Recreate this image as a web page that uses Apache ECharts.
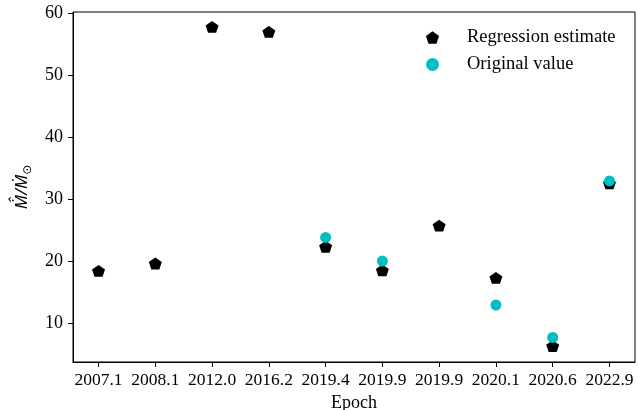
<!DOCTYPE html>
<html>
<head>
<meta charset="utf-8">
<script src="https://cdn.jsdelivr.net/npm/echarts@6/dist/echarts.min.js"></script>
<style>
  html, body { margin: 0; padding: 0; background: #fff; }
  #chart { width: 638px; height: 410px; }
</style>
</head>
<body>
<div id="chart"></div>
<script>
// Observation epochs (category labels on the x axis)
const epochs = ['2007.1', '2008.1', '2012.0', '2016.2', '2019.4', '2019.9', '2019.9', '2020.1', '2020.6', '2022.9'];
// Accretion-rate ratio from the regression model
const regression = [18.5, 19.7, 57.8, 57.0, 22.4, 18.6, 25.8, 17.4, 6.4, 32.6];
// Directly measured values (only where available)
const original = [null, null, null, null, 23.9, 20.1, null, 13.0, 7.8, 33.0];
const yTicks = [10, 20, 30, 40, 50, 60];

const serif = 'Liberation Serif, Times New Roman, serif';
const pentagon = 'path://M0,-1 L0.951,-0.309 L0.588,0.809 L-0.588,0.809 L-0.951,-0.309 Z';

const toPairs = arr => arr.map((v, i) => (v == null ? null : [i, v])).filter(Boolean);
const idx = epochs.map((_, i) => i);

const chart = echarts.init(document.getElementById('chart'), null, { renderer: 'canvas' });
chart.setOption({
  animation: false,
  backgroundColor: '#fff',
  grid: { left: 73, right: 3, top: 12, bottom: 48, containLabel: false,
          outerBoundsMode: 'none',
          show: true, borderColor: '#000', borderWidth: 1 },
  legend: {
    orient: 'vertical',
    left: 421, top: 23,
    itemWidth: 13, itemHeight: 13, itemGap: 8,
    textStyle: { fontFamily: serif, fontSize: 18.5, color: '#000', lineHeight: 13, padding: [0, 0, 0, 23] },
    data: [
      { name: 'Regression estimate', icon: pentagon },
      { name: 'Original value', icon: 'circle' }
    ]
  },
  xAxis: {
    type: 'value',
    min: -0.45, max: 9.45,
    name: 'Epoch', nameLocation: 'middle', nameGap: 27,
    nameTextStyle: { fontFamily: serif, fontSize: 18, color: '#000' },
    splitLine: { show: false },
    axisLine: { show: true, onZero: false, lineStyle: { color: '#000', width: 1 } },
    axisTick: { show: true, length: 5, lineStyle: { color: '#000' }, customValues: idx },
    axisLabel: {
      margin: 9, fontFamily: serif, fontSize: 17.5, color: '#000',
      customValues: idx,
      formatter: v => epochs[Math.round(v)]
    }
  },
  yAxis: {
    type: 'value',
    min: 3.84, max: 60.2,
    name: '{a|M\u0307\u0302/M\u0307}{b|\u2299}',
    nameLocation: 'middle', nameRotate: 90, nameGap: 28,
    nameTextStyle: {
      rich: {
        a: { fontFamily: 'Noto Sans', fontStyle: 'italic', fontSize: 17, color: '#000', lineHeight: 24 },
        b: { fontFamily: 'DejaVu Sans', fontSize: 12, color: '#000', lineHeight: 16, verticalAlign: 'bottom' }
      }
    },
    splitLine: { show: false },
    axisLine: { show: true, onZero: false, lineStyle: { color: '#000', width: 1 } },
    axisTick: { show: true, length: 5, lineStyle: { color: '#000' }, customValues: yTicks },
    axisLabel: { margin: 10, fontFamily: serif, fontSize: 18, color: '#000', customValues: yTicks }
  },
  series: [
    {
      name: 'Regression estimate',
      type: 'scatter',
      symbol: pentagon,
      symbolKeepAspect: true,
      symbolSize: [13, 12.4],
      itemStyle: { color: '#000', opacity: 1 },
      data: toPairs(regression),
      z: 2
    },
    {
      name: 'Original value',
      type: 'scatter',
      symbol: 'circle',
      symbolSize: 11,
      itemStyle: { color: '#00bfbf', opacity: 1 },
      data: toPairs(original),
      z: 3
    }
  ]
});
</script>
</body>
</html>
